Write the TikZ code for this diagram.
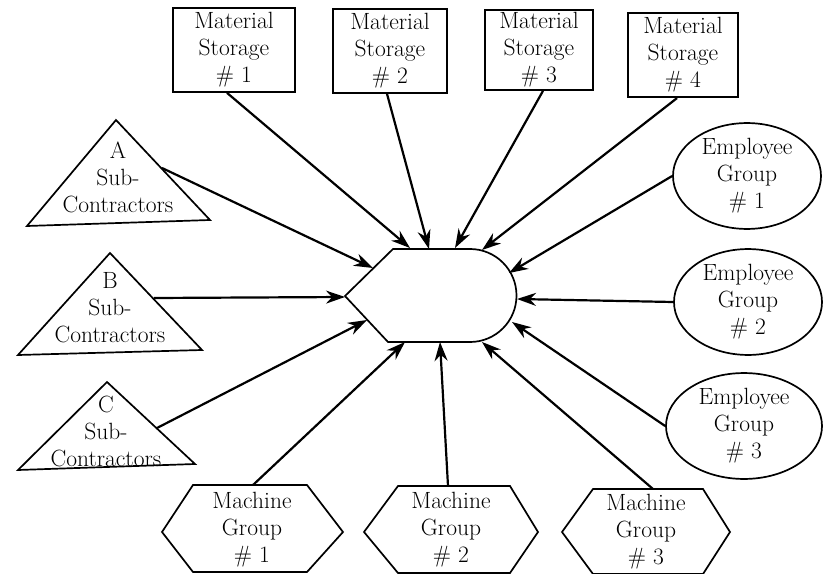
\documentclass[tikz,border=0pt]{standalone}
\usetikzlibrary{arrows.meta,calc,shapes.geometric}
\begin{document}
\begin{tikzpicture}[x=1bp,y=1bp,yscale=-1,
  lbl/.style={align=center,inner sep=0pt,font=\fontsize{23.5bp}{27bp}\selectfont},
  outline/.style={draw,line width=1.7bp,line join=miter},
  storebox/.style={lbl,outline},
  oval/.style={lbl,outline,ellipse},
  feed/.style={-{Stealth[length=19bp,width=13bp]},line width=2.2bp},
]
\useasboundingbox (0,0) rectangle (824,574);

% central unit: pointed on the left, rounded on the right
\draw[outline] (345,296) -- (393,249) -- (470,249)
  arc[start angle=-90,end angle=90,radius=46.5bp] -- (388,342) -- cycle;
\coordinate (t1) at (410,248);
\coordinate (t2) at (429,249);
\coordinate (t3) at (455,248);
\coordinate (t4) at (482,250);
\coordinate (tE1) at (509,273);
\coordinate (tE2) at (517,299);
\coordinate (tE3) at (512,322);
\coordinate (tA) at (373,268);
\coordinate (tB) at (345,297);
\coordinate (tC) at (367,320);
\coordinate (tM1) at (405,342);
\coordinate (tM2) at (440,342);
\coordinate (tM3) at (482,342);

% material storage boxes
\node[storebox,minimum width=122bp,minimum height=84bp] (ms1) at (234,50) {Material\\Storage\\\# 1};
\node[storebox,minimum width=114bp,minimum height=84bp] (ms2) at (390,51) {Material\\Storage\\\# 2};
\node[storebox,minimum width=108bp,minimum height=80bp] (ms3) at (539,50) {Material\\Storage\\\# 3};
\node[storebox,line width=2.2bp,minimum width=110bp,minimum height=84bp] (ms4) at (683,55) {Material\\Storage\\\# 4};

% employee groups
\node[oval,minimum width=148bp,minimum height=104bp] (eg1) at (747,176) {Employee\\Group\\\# 1};
\node[oval,minimum width=148bp,minimum height=100bp] (eg2) at (748,302) {Employee\\Group\\\# 2};
\node[oval,minimum width=156bp,minimum height=98bp] (eg3) at (744,426) {Employee\\Group\\\# 3};

% sub-contractors
\node[lbl] (sa) at (118,177) {A\\Sub-\\Contractors};
\draw[outline] (116,120) -- (210,220) -- (27,226) -- cycle;
\coordinate (fA) at (162,168);
\node[lbl] (sb) at (110,308) {B\\Sub-\\Contractors};
\draw[outline] (110,253) -- (202,350) -- (18,355) -- cycle;
\coordinate (fB) at (154,298);
\node[lbl] (sc) at (106,431) {C\\Sub-\\Contractors};
\draw[outline] (107,382) -- (195,464) -- (18,470) -- cycle;
\coordinate (fC) at (157,428);

% machine groups
\node[lbl] (mg1) at (252,530) {Machine\\Group\\\# 1};
\draw[outline] (162,532) -- (193,485) -- (307,485) -- (343,532) -- (307,572) -- (193,572) -- cycle;
\coordinate (fM1) at (253,485);
\node[lbl] (mg2) at (451,530) {Machine\\Group\\\# 2};
\draw[outline] (364,532) -- (398,486) -- (510,486) -- (538,532) -- (510,573) -- (398,573) -- cycle;
\coordinate (fM2) at (448,486);
\node[lbl] (mg3) at (646,532) {Machine\\Group\\\# 3};
\draw[outline] (562,532) -- (593,489) -- (703,489) -- (730,532) -- (703,574) -- (593,574) -- cycle;
\coordinate (fM3) at (653,489);

% flows into the central unit
\draw[feed] ($(ms1.south)+(-7,0)$) -- (t1);
\draw[feed] ($(ms2.south)+(-3,0)$) -- (t2);
\draw[feed] ($(ms3.south)+(4,0)$) -- (t3);
\draw[feed] ($(ms4.south)+(-6,0)$) -- (t4);
\draw[feed] (eg1.west) -- (tE1);
\draw[feed] (eg2.west) -- (tE2);
\draw[feed] (eg3.west) -- (tE3);
\draw[feed] (fA) -- (tA);
\draw[feed] (fB) -- (tB);
\draw[feed] (fC) -- (tC);
\draw[feed] (fM1) -- (tM1);
\draw[feed] (fM2) -- (tM2);
\draw[feed] (fM3) -- (tM3);
\end{tikzpicture}
\end{document}
